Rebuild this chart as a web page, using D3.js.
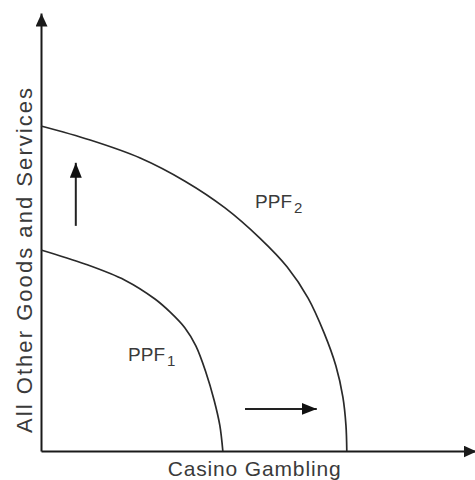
<!DOCTYPE html>
<html><head><meta charset="utf-8">
<script src="https://cdn.jsdelivr.net/npm/d3@7"></script>
<style>body{margin:0;background:#fff}svg{display:block}text{font-family:"Liberation Sans",Arial,sans-serif;fill:#3a3a3a}</style>
</head><body><svg id="c" width="475" height="480"></svg>
<script>
// Data (abstract units, 0..100 on each axis)
const ppf1X = [0, 10.1, 19.3, 26.2, 29.7, 33.1, 35.6, 37.9, 39.8, 41.1, 41.8];
const ppf1Y = [45.9, 42.7, 39.0, 34.7, 31.7, 28.1, 24.0, 18.0, 11.6, 5.9, 0];
const ppf2X = [0, 11.3, 22.8, 33.1, 42.3, 50.3, 56.6, 61.4, 65.1, 67.8, 69.4, 70.1, 70.3];
const ppf2Y = [74.2, 71.0, 66.9, 61.6, 55.5, 48.6, 42.0, 34.9, 26.9, 19.4, 12.3, 5.9, 0];
const shiftUp = {x: [8.0, 8.0], y: [51.4, 65.8]};
const shiftRight = {x: [46.9, 63.4], y: [9.6, 9.6]};
const curveLabels = [{name: "PPF", sub: "2", x: 49.2, y: 55.5}, {name: "PPF", sub: "1", x: 20.0, y: 20.5}];
const xTitle = "Casino Gambling";
const yTitle = "All Other Goods and Services";

const svg = d3.select("#c");
const x = d3.scaleLinear().domain([0, 100]).range([41, 476]);
const y = d3.scaleLinear().domain([0, 100]).range([451, 13]);

const defs = svg.append("defs");
function marker(id, len, hw, color) {
  defs.append("marker").attr("id", id).attr("markerUnits", "userSpaceOnUse")
    .attr("viewBox", `0 ${-hw} ${len} ${2*hw}`).attr("refX", len).attr("refY", 0)
    .attr("markerWidth", len).attr("markerHeight", 2*hw).attr("orient", "auto")
    .append("path").attr("d", `M0,${-hw}L${len},0L0,${hw}Z`).attr("fill", color);
}
marker("axArrow", 13, 6, "#1a1a1a");
marker("shArrow", 15, 6, "#111");

// Axes
const gx = svg.append("g").attr("transform", `translate(0,${y(0)})`)
  .call(d3.axisBottom(x).tickValues([]).tickSizeOuter(0));
const gy = svg.append("g").attr("transform", `translate(${x(0)},0)`)
  .call(d3.axisLeft(y).tickValues([]).tickSizeOuter(0));
[gx, gy].forEach(g => g.select(".domain").attr("stroke", "#1a1a1a").attr("stroke-width", 2).attr("marker-end", "url(#axArrow)"));

// Curves
const line = d3.line().x(d => x(d[0])).y(d => y(d[1])).curve(d3.curveCatmullRom.alpha(0.5));
[[ppf1X, ppf1Y], [ppf2X, ppf2Y]].forEach(([xs, ys]) => {
  svg.append("path").datum(d3.zip(xs, ys)).attr("d", line)
    .attr("fill", "none").attr("stroke", "#2a2a2a").attr("stroke-width", 1.7);
});

// Shift arrows
const straight = d3.line().x(d => x(d[0])).y(d => y(d[1]));
[shiftUp, shiftRight].forEach(a => {
  svg.append("path").datum(d3.zip(a.x, a.y)).attr("d", straight)
    .attr("stroke", "#222").attr("stroke-width", 2).attr("fill", "none").attr("marker-end", "url(#shArrow)");
});

// Curve labels
curveLabels.forEach(l => {
  const t = svg.append("text").attr("x", x(l.x)).attr("y", y(l.y)).attr("font-size", 19);
  t.append("tspan").text(l.name).attr("textLength", 37);
  t.append("tspan").text(l.sub).attr("font-size", 15).attr("dy", 5).attr("dx", 2);
});

// Axis titles
svg.append("text").attr("x", x(49)).attr("y", 476).attr("text-anchor", "middle")
  .attr("font-size", 21).attr("textLength", 173).attr("lengthAdjust", "spacing").text(xTitle);
svg.append("text").attr("transform", `translate(32,${y(43.5)}) rotate(-90)`).attr("text-anchor", "middle")
  .attr("font-size", 22).attr("textLength", 345).attr("lengthAdjust", "spacing").text(yTitle);
</script></body></html>
